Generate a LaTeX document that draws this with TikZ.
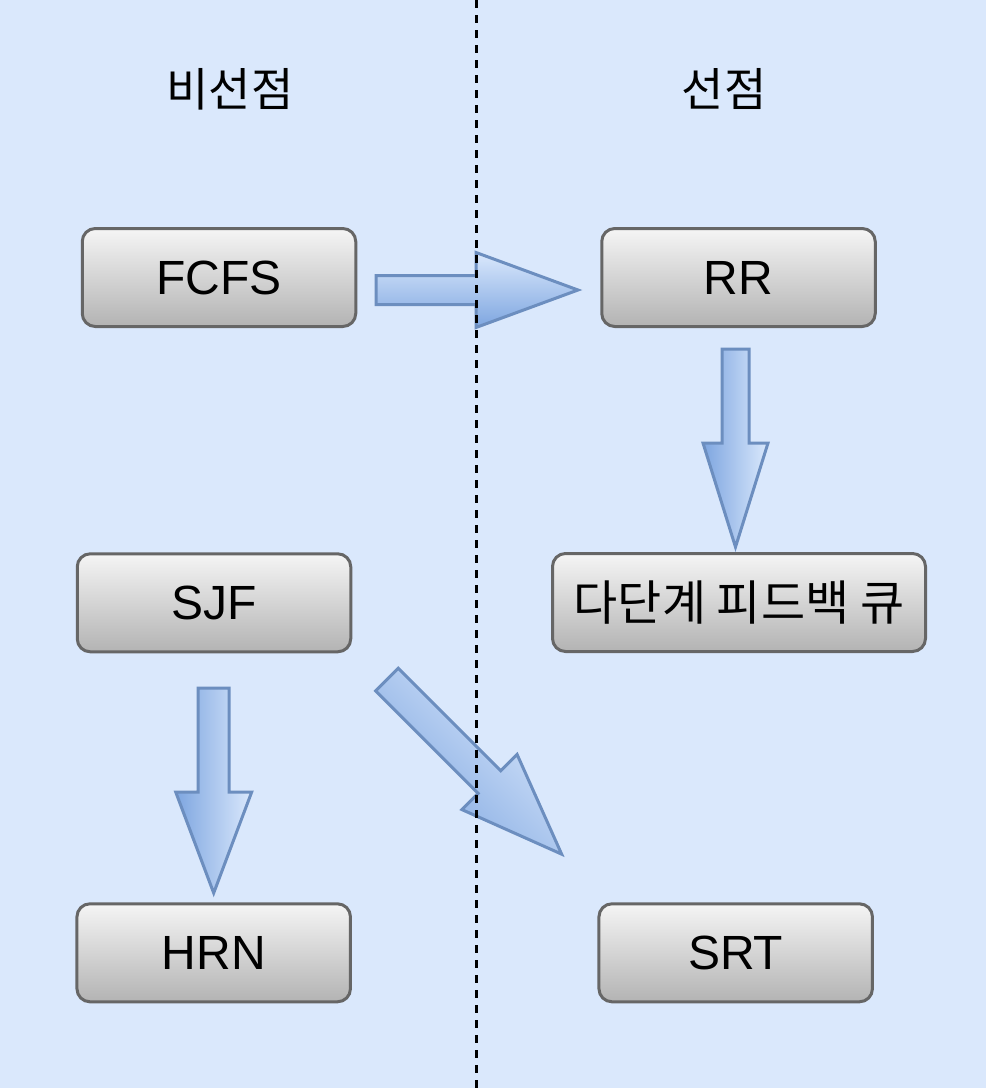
\documentclass[tikz,border=0pt]{standalone}
\usepackage{fontspec}
\setmainfont{Liberation Sans}
\newfontfamily\kr{Noto Sans CJK KR}
\definecolor{bgblue}{HTML}{DAE8FC}
\definecolor{arlight}{HTML}{DAE8FC}
\definecolor{ardark}{HTML}{7EA6E0}
\definecolor{arline}{HTML}{6C8EBF}
\definecolor{boxtop}{HTML}{F5F5F5}
\definecolor{boxbot}{HTML}{B3B3B3}
\definecolor{boxline}{HTML}{666666}
\newcommand{\blockarrow}[7]{%
  \begin{scope}[shift={#1},rotate=#2]
    \shade[draw=arline,line width=3pt,line join=miter,#7]
      (0,-#4) -- ({#3-#6},-#4) -- ({#3-#6},-#5) -- (#3,0) --
      ({#3-#6},#5) -- ({#3-#6},#4) -- (0,#4) -- cycle;
  \end{scope}}
\tikzset{
  procbox/.style={draw=boxline,line width=3pt,rounded corners=13pt,
    top color=boxtop,bottom color=boxbot,minimum width=273.5pt,
    minimum height=98pt,inner sep=0pt,font=\fontsize{48}{56}\selectfont},
  header/.style={font=\kr\fontsize{46}{54}\selectfont,inner sep=0pt},
  divider/.style={black,line width=3pt,dash pattern=on 8pt off 7pt}
}
\begin{document}
\begin{tikzpicture}[x=1pt,y=1pt]
  \fill[bgblue] (0,0) rectangle (986,-1088);
  \useasboundingbox (0,0) rectangle (986,-1088);

  \node[header] (h1) at (230,-89) {비선점};
  \node[header] (h2) at (724,-89) {선점};

  \node[procbox] (fcfs) at (219,-277.5) {FCFS};
  \node[procbox] (rr) at (738.5,-277.5) {RR};
  \node[procbox] (sjf) at (214,-602.8) {SJF};
  \node[procbox,minimum width=373pt,font=\kr\fontsize{48}{56}\selectfont] (mlfq) at (739,-602.5) {다단계 피드백 큐};
  \node[procbox] (hrn) at (213.7,-952.8) {HRN};
  \node[procbox] (srt) at (735.7,-952.8) {SRT};

  % block arrows
  \blockarrow{(376,-290)}{0}{202}{14.5}{37.5}{102}{top color=arlight,bottom color=ardark}
  \blockarrow{(735.5,-349)}{-90}{198}{13.5}{32.5}{104}{left color=ardark,right color=arlight}
  \blockarrow{(213.7,-688)}{-90}{205}{15.5}{38}{101}{left color=ardark,right color=arlight}
  \blockarrow{(387,-679.5)}{-45}{247}{16}{39}{102}{top color=arlight,bottom color=ardark,shading angle=-45}

  \coordinate (dtop) at (476,0);
  \coordinate (dbot) at (476,-1088);
  \draw[divider] (dtop) -- (dbot);
\end{tikzpicture}
\end{document}
